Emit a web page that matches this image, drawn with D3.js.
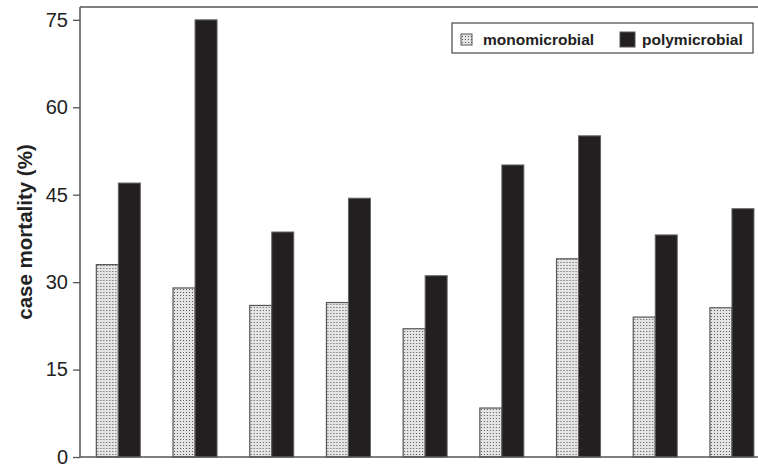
<!DOCTYPE html>
<html>
<head>
<meta charset="utf-8">
<script src="https://cdn.jsdelivr.net/npm/d3@7"></script>
<style>
  body { margin: 0; background: #fff; }
  text { font-family: "Liberation Sans", Arial, sans-serif; }
</style>
</head>
<body>
<div id="chart"></div>
<script>
      var groups = ["1", "2", "3", "4", "5", "6", "7", "8", "9"];
      var mono = [33, 29, 26, 26.5, 22, 8.4, 34, 24, 25.6];
      var poly = [47, 75, 38.6, 44.4, 31.1, 50.1, 55.1, 38.1, 42.6];
      var yTicks = [0, 15, 30, 45, 60, 75];
      var seriesNames = ["monomicrobial", "polymicrobial"];

      var width = 758;
      var height = 466;
      // note: "top" is reserved on window, so use plot* names
      var plotLeft = 80, plotBottom = 457, plotTop = 7;

      var svg = d3.select('#chart').append('svg')
                  .attr('width', width)
                  .attr('height', height);

      // dotted fill for monomicrobial bars
      var pat = svg.append('defs').append('pattern')
                   .attr('id', 'dots')
                   .attr('patternUnits', 'userSpaceOnUse')
                   .attr('width', 3).attr('height', 3);
      pat.append('rect').attr('width', 3).attr('height', 3).attr('fill', '#e4e4e4');
      pat.append('rect').attr('x', 1).attr('y', 1).attr('width', 1).attr('height', 1).attr('fill', '#555');

      var step = 76.7;
      var x = d3.scaleBand().domain(groups)
                .range([plotLeft, plotLeft + step * groups.length])
                .paddingInner(0.426).paddingOuter(0.213);
      var x1 = d3.scaleBand().domain(seriesNames).range([0, x.bandwidth()]);
      var y = d3.scaleLinear().domain([0, 77.2]).range([plotBottom, plotTop]);

      // bars
      var g = svg.selectAll('g.grp').data(groups).enter().append('g')
                 .attr('class', 'grp')
                 .attr('transform', function(d){ return 'translate(' + x(d) + ',0)'; });
      g.append('rect')
       .attr('x', x1('monomicrobial'))
       .attr('y', function(d, i){ return y(mono[i]); })
       .attr('width', x1.bandwidth())
       .attr('height', function(d, i){ return y(0) - y(mono[i]); })
       .attr('fill', 'url(#dots)')
       .attr('stroke', '#555').attr('stroke-width', 1.2);
      g.append('rect')
       .attr('x', x1('polymicrobial'))
       .attr('y', function(d, i){ return y(poly[i]); })
       .attr('width', x1.bandwidth())
       .attr('height', function(d, i){ return y(0) - y(poly[i]); })
       .attr('fill', '#231f20')
       .attr('stroke', '#666').attr('stroke-width', 1);

      // axes
      var yAxis = d3.axisLeft(y).tickValues(yTicks).tickSize(7).tickPadding(5);
      var ax = svg.append('g').attr('transform', 'translate(' + plotLeft + ',0)').call(yAxis);
      ax.select('.domain').remove();
      ax.selectAll('.tick line').attr('stroke', '#555').attr('stroke-width', 1.3);
      ax.selectAll('.tick text').attr('font-size', 20).attr('fill', '#222')
        .attr('font-family', '"Liberation Sans", Arial, sans-serif');

      // frame: left, bottom and top lines
      svg.append('line').attr('x1', plotLeft).attr('x2', plotLeft).attr('y1', plotTop).attr('y2', plotBottom)
         .attr('stroke', '#555').attr('stroke-width', 1.5);
      svg.append('line').attr('x1', plotLeft).attr('x2', width).attr('y1', plotBottom).attr('y2', plotBottom)
         .attr('stroke', '#555').attr('stroke-width', 1.5);
      svg.append('line').attr('x1', plotLeft).attr('x2', width).attr('y1', plotTop).attr('y2', plotTop)
         .attr('stroke', '#555').attr('stroke-width', 1.5);

      svg.append('text')
         .attr('transform', 'translate(32,' + ((plotTop + plotBottom) / 2) + ') rotate(-90)')
         .attr('text-anchor', 'middle')
         .attr('font-size', 20.5).attr('font-weight', 'bold').attr('fill', '#222')
         .text('case mortality (%)');

      // legend
      var lg = svg.append('g');
      lg.append('rect').attr('x', 452).attr('y', 23).attr('width', 301).attr('height', 30)
        .attr('fill', '#fff').attr('stroke', '#555').attr('stroke-width', 1.3);
      var items = lg.selectAll('g.item').data(seriesNames).enter().append('g')
                    .attr('transform', function(d, i){ return 'translate(' + [461, 620][i] + ',32)'; });
      items.append('rect').attr('width', function(d, i){ return i ? 15 : 11; })
           .attr('height', function(d, i){ return i ? 15 : 11; })
           .attr('y', function(d, i){ return i ? 0 : 2; })
           .attr('fill', function(d, i){ return i ? '#231f20' : 'url(#dots)'; })
           .attr('stroke', '#555').attr('stroke-width', 1);
      items.append('text').attr('x', 22)
           .attr('y', 13)
           .attr('font-size', 15.5).attr('font-weight', 'bold').attr('fill', '#222')
           .text(function(d){ return d; });
</script>
</body>
</html>
